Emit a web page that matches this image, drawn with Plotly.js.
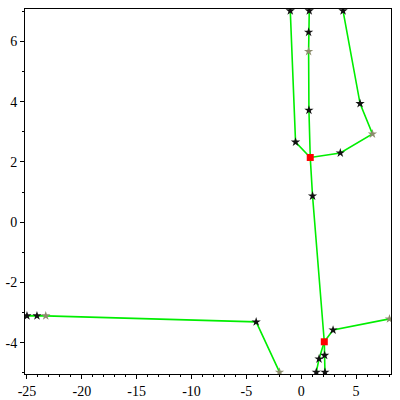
<!DOCTYPE html>
<html>
<head>
<meta charset="utf-8">
<script src="https://cdn.plot.ly/plotly-3.0.1.min.js"></script>
<style>
  html, body { margin: 0; padding: 0; background: #fff; }
  #plot { width: 400px; height: 400px; }
</style>
</head>
<body>
<div id="plot"></div>
<script>
// paths (x, y)
var pathA_x = [-1.00, -0.52, 0.82];
var pathA_y = [7.02, 2.66, 2.15];

var pathB_x = [0.73, 0.67, 0.67, 0.70, 0.82, 1.03, 2.10];
var pathB_y = [7.02, 6.31, 5.67, 3.72, 2.15, 0.87, -3.97];

var pathC_x = [3.81, 5.36, 6.49, 3.56, 0.82];
var pathC_y = [7.02, 3.94, 2.93, 2.30, 2.15];

var pathD_x = [2.10, 2.90, 8.04];
var pathD_y = [-3.97, -3.58, -3.21];

var pathE_x = [2.10, 2.13, 2.16];
var pathE_y = [-3.97, -4.42, -4.98];

var pathF_x = [2.10, 1.62, 1.37];
var pathF_y = [-3.97, -4.54, -4.98];

var pathG_x = [-25.0, -24.09, -23.29, -4.11, -1.98];
var pathG_y = [-3.11, -3.11, -3.11, -3.31, -4.98];

// star markers
var blackStar_x = [-1.00, -0.52, 0.73, 0.67, 0.70, 1.03, 3.81, 5.36, 3.56, 2.90, 2.13, 2.16, 1.62, 1.37, -25.0, -24.09, -4.11];
var blackStar_y = [7.02, 2.66, 7.02, 6.31, 3.72, 0.87, 7.02, 3.94, 2.30, -3.58, -4.42, -4.98, -4.54, -4.98, -3.11, -3.11, -3.31];

var greyStar_x = [0.67, 6.49, -23.29, -1.98, 8.04];
var greyStar_y = [5.67, 2.93, -3.11, -4.98, -3.21];

// red squares (junctions)
var node_x = [0.82, 2.10];
var node_y = [2.15, -3.97];

var xTickVals = [-25, -20, -15, -10, -5, 0, 5];
var xTickText = ['-25', '-20', '-15', '-10', '-5', '0', '5'];
var yTickVals = [-4, -2, 0, 2, 4, 6];
var yTickText = ['-4', '-2', '0', '2', '4', '6'];

var paths = [
    [pathA_x, pathA_y], [pathB_x, pathB_y], [pathC_x, pathC_y],
    [pathD_x, pathD_y], [pathE_x, pathE_y], [pathF_x, pathF_y],
    [pathG_x, pathG_y]
];

var traces = paths.map(function (p) {
    return {
        x: p[0], y: p[1], mode: 'lines',
        line: { color: '#00ee00', width: 1.6 },
        hoverinfo: 'skip'
    };
});

traces.push({
    x: blackStar_x, y: blackStar_y, mode: 'markers',
    marker: { symbol: 'star', size: 7, color: '#111111' }
});
traces.push({
    x: greyStar_x, y: greyStar_y, mode: 'markers',
    marker: { symbol: 'star', size: 7, color: '#8c8c6c' }
});
traces.push({
    x: node_x, y: node_y, mode: 'markers',
    marker: { symbol: 'square', size: 7, color: '#ff0000' }
});

var tickFont = { family: 'Liberation Serif', size: 14, color: '#000' };

var layout = {
    width: 400, height: 400,
    margin: { l: 25, r: 9, t: 9, b: 26, pad: 0 },
    showlegend: false,
    plot_bgcolor: '#fff',
    paper_bgcolor: '#fff',
    xaxis: {
        range: [-25.18, 8.18],
        tickvals: xTickVals, ticktext: xTickText,
        ticks: 'outside', ticklen: 4, tickcolor: '#000', tickwidth: 1,
        minor: { dtick: 1, ticks: 'outside', ticklen: 2, tickcolor: '#000', showgrid: false },
        showgrid: false, zeroline: false,
        showline: true, mirror: true, linecolor: '#000', linewidth: 1,
        tickfont: tickFont
    },
    yaxis: {
        range: [-5.04, 7.08],
        tickvals: yTickVals, ticktext: yTickText,
        ticks: 'outside', ticklen: 4, tickcolor: '#000', tickwidth: 1,
        minor: { dtick: 1, ticks: 'outside', ticklen: 2, tickcolor: '#000', showgrid: false },
        showgrid: false, zeroline: false,
        showline: true, mirror: true, linecolor: '#000', linewidth: 1,
        tickfont: tickFont
    }
};

Plotly.newPlot('plot', traces, layout, { displayModeBar: false, staticPlot: true });
</script>
</body>
</html>
